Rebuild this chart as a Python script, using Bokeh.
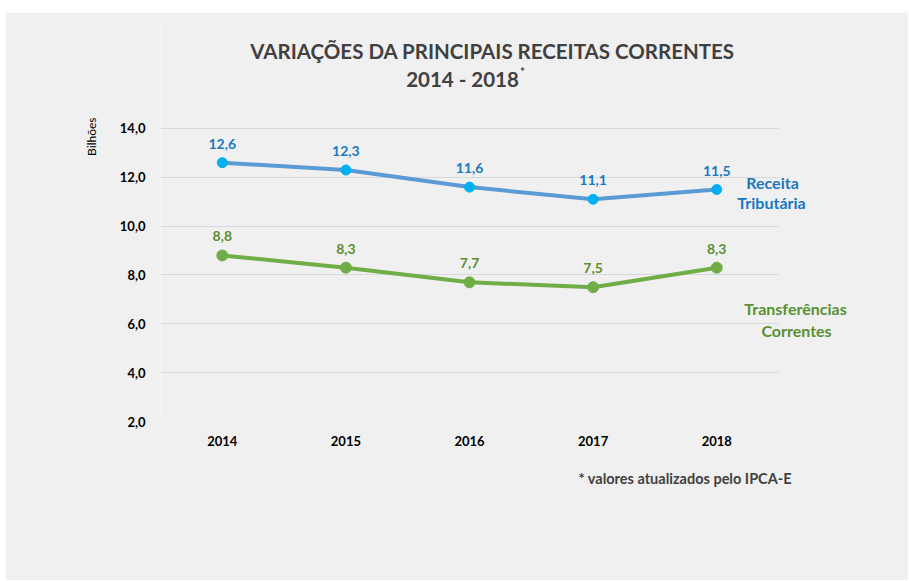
from bokeh.plotting import figure
from bokeh.models import ColumnDataSource, Label, FixedTicker, Range1d, Title
from bokeh.core.properties import value
from bokeh.embed import file_html
from bokeh.resources import INLINE

years = ["2014", "2015", "2016", "2017", "2018"]
receita = [12.6, 12.3, 11.6, 11.1, 11.5]
transf = [8.8, 8.3, 7.7, 7.5, 8.3]
y_ticks = [2, 4, 6, 8, 10, 12, 14]

FONT = "Lato"
BG = "#f0f0f0"
BLUE_T = "#1a78c2"
GREEN_T = "#5a8f32"
TITLE_C = "#404040"

xs = list(range(len(years)))

# frame extends above the 14,0 gridline so the title can live inside it
p = figure(x_range=Range1d(-0.5, 5.147), y_range=Range1d(2, 18.4232), width=903, height=568,
           output_backend="svg", toolbar_location=None,
           min_border_left=155, min_border_right=50, min_border_top=8, min_border_bottom=159)
p.margin = (12, 0, 0, 5)
p.background_fill_color = BG
p.border_fill_color = BG
p.outline_line_color = None

p.xgrid.grid_line_color = None
p.ygrid.grid_line_color = "#d9d9d9"
p.ygrid.grid_line_width = 1
p.ygrid.cross_bounds = (-0.5, 4.5)
p.xaxis.ticker = FixedTicker(ticks=xs)
p.xaxis.major_label_overrides = {i: y for i, y in zip(xs, years)}
p.yaxis.ticker = FixedTicker(ticks=y_ticks)
p.yaxis.major_label_overrides = {t: f"{t:.1f}".replace(".", ",") for t in y_ticks}
for ax in (p.xaxis, p.yaxis):
    ax.axis_line_color = None
    ax.major_tick_line_color = None
    ax.minor_tick_line_color = None
    ax.major_label_text_font = FONT
    ax.major_label_text_font_style = "bold"
    ax.major_label_text_font_size = "13px"
    ax.major_label_text_color = "#000000"
p.xaxis.major_label_standoff = 8
p.yaxis.major_label_standoff = 9

src = ColumnDataSource(dict(
    x=xs, r=receita, t=transf,
    rl=[f"{v:.1f}".replace(".", ",") for v in receita],
    tl=[f"{v:.1f}".replace(".", ",") for v in transf],
))

p.line("x", "r", source=src, line_color="#5b9bd5", line_width=4)
p.scatter("x", "r", source=src, size=10, fill_color="#00b0f0", line_color="#00b0f0")
p.line("x", "t", source=src, line_color="#70ad47", line_width=4)
p.scatter("x", "t", source=src, size=11, fill_color="#70ad47", line_color="#70ad47")

p.text("x", "r", text="rl", source=src, y_offset=-14, text_align="center",
       text_baseline="bottom", text_font=value(FONT), text_font_style="bold",
       text_font_size="14px", text_color=BLUE_T)
p.text("x", "t", text="tl", source=src, y_offset=-14, text_align="center",
       text_baseline="bottom", text_font=value(FONT), text_font_style="bold",
       text_font_size="14px", text_color=GREEN_T)

def lab(x, y, txt, color, size="16px"):
    p.add_layout(Label(x=x, y=y, x_units="canvas", y_units="canvas", text=txt,
                       text_font=FONT, text_font_size=size, text_font_style="bold",
                       text_color=color, text_align="center", text_baseline="middle"))

lab(487, 38, "VARIAÇÕES DA PRINCIPAIS RECEITAS CORRENTES", TITLE_C, "20.5px")
lab(457, 66, "2014 - 2018", TITLE_C, "20.5px")
lab(517, 59, "*", TITLE_C, "12px")
lab(767, 170, "Receita", BLUE_T)
lab(766, 190, "Tributária", BLUE_T)
lab(790, 296, "Transferências", GREEN_T)
lab(791, 318, "Correntes", GREEN_T)

def title(txt, side, size, color, offset, standoff, style="bold", align="left"):
    p.add_layout(Title(text=txt, align=align, offset=offset, standoff=standoff,
                       text_font=FONT, text_font_size=size, text_font_style=style,
                       text_color=color), side)

title("* valores atualizados pelo IPCA-E", "below", "14.5px", TITLE_C, 418, 38)
title("Bilhões", "left", "12px", "#000000", 97, 36, style="normal", align="right")

open("out.html", "w").write(file_html(p, INLINE))
